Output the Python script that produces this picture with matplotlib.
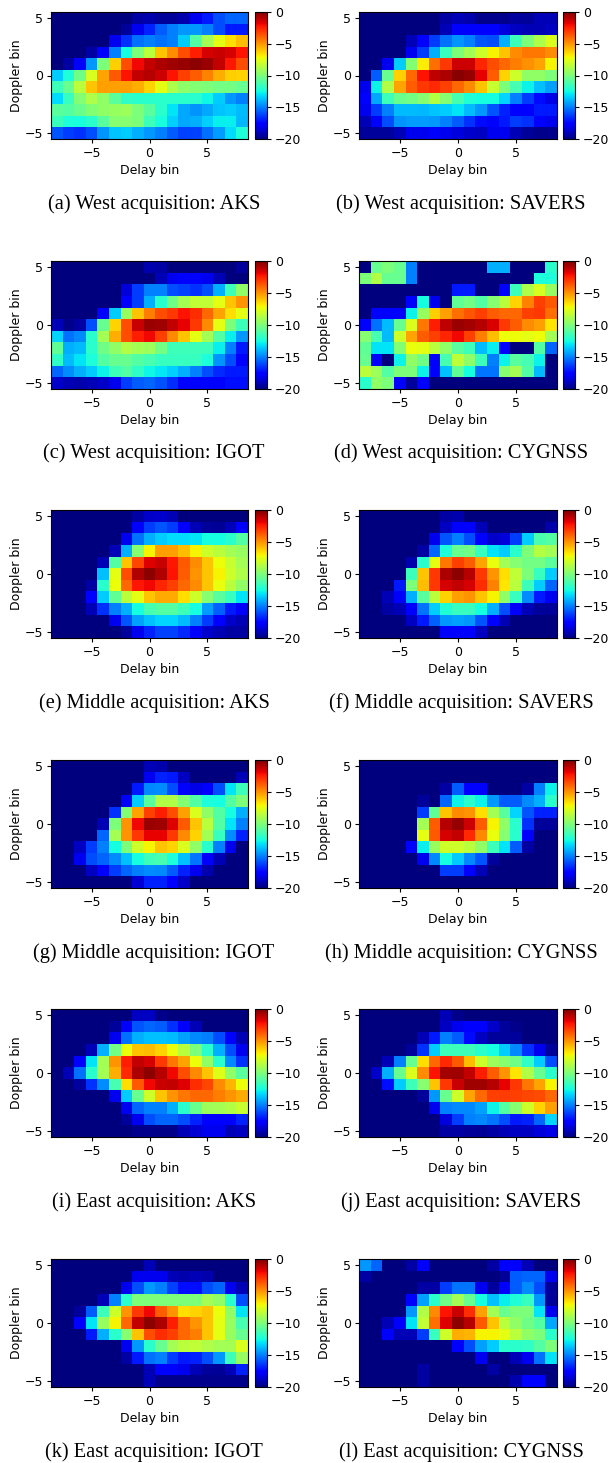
import numpy as np
import matplotlib
matplotlib.use("Agg")
import matplotlib.pyplot as plt

# every panel: rows from Doppler +5 down to -5, columns from delay -8 to +8
west_aks = [
    [-20]*7 + [-19.3, -19.2, -19.5, -19.5, -19.2, -18, -17, -16, -15.5, -15.5],
    [-20]*6 + [-19.5, -18, -16.8, -15.7, -15, -14.5, -14.5, -15, -16, -17, -17],
    [-20]*5 + [-18, -16.5, -15.3, -15, -15.3, -15, -13.5, -11, -9, -7.5, -6.5, -5.8],
    [-20]*3 + [-19.3, -17.8, -15, -12.5, -10, -8.5, -6, -4.8, -3.5, -2.5, -1.5, -1.3, -1.5, -2.2],
    [-20, -19.3, -17.7, -14.5, -10, -6.2, -3.5, -2, -1.2, -0.8, -0.6, -0.4, -0.3, -0.5, -1.2, -2.3, -3.5],
    [-13.5, -12.3, -10.3, -7.8, -5.3, -3.7, -2.2, -1.2, -1, -1.4, -2.2, -3.2, -3.8, -4.6, -5.5, -6.2, -6.3],
    [-11.5, -10.5, -8.5, -6, -5.2, -5.2, -5.2, -5.5, -6.3, -7.5, -8.8, -9.6, -9.8, -10, -10.2, -10.2, -10.5],
    [-13.2, -11.7, -9.8, -8.8, -9.5, -10.8, -11.8, -12, -12, -12, -12, -12, -12, -12.6, -13.5, -14.5, -15],
    [-10.8, -11, -10.4, -9.8, -9.5, -9.3, -9.2, -10, -10.8, -12, -13, -14.2, -14.6, -14.2, -13.6, -13.5, -13.8],
    [-11.6, -12.3, -12.4, -12, -10.8, -9.7, -9.7, -10, -11.5, -12.4, -13.4, -14.2, -14, -13.4, -12.8, -12.8, -13.9],
    [-15.8, -16.3, -16.5, -16, -14.6, -13.6, -13.5, -14, -14.5, -15, -15.7, -16.2, -16.2, -15.3, -14.4, -13.2, -12.2],
]
west_savers = [
    [-20]*7 + [-19.3, -19, -19.2, -19.7, -19.7, -19.7, -19.4, -19.5, -19, -19],
    [-20]*7 + [-19, -17.8, -17.6, -17.6, -17.5, -18.3, -18.8, -19, -19, -18.8],
    [-20]*4 + [-19, -17.7, -16.3, -15.3, -14.6, -15, -15.8, -16, -14, -11.5, -10, -8.8, -7.7],
    [-20]*4 + [-18, -16.3, -14, -11.7, -10, -9, -8, -7, -6, -4.8, -4.3, -4.3, -4.8],
    [-20]*2 + [-18, -13.5, -9.8, -6.8, -4.2, -3, -1.4, -1.4, -2.6, -3.5, -4, -4.5, -4.9, -5.3, -7],
    [-20, -15.7, -10.5, -6.2, -4, -2.2, -1.1, -0.8, -0.2, -0.4, -1.8, -3.8, -6.3, -8, -9.5, -9.5, -10],
    [-18, -12.7, -8.7, -5.3, -3.8, -3, -2.7, -3.2, -4, -4.8, -6, -8.2, -10, -11.3, -12.7, -13.7, -14.3],
    [-17.7, -14.2, -11.5, -10.5, -10.2, -9.7, -8.6, -9.7, -11.3, -12.2, -12.5, -12.5, -13.3, -15, -16.3, -17.3, -18.2],
    [-18, -16.3, -15, -13.8, -13.8, -13.9, -13.6, -13.5, -13, -13.8, -14.5, -15.8, -16.8, -17.5, -17.5, -17, -17],
    [-19, -17.8, -16, -14.6, -14.4, -14.4, -14.5, -15, -15.7, -16.5, -17.3, -17.5, -17, -16.3, -16.5, -17.5, -18],
    [-19.5, -19.5, -19.5, -19, -18, -18, -17.8, -18, -18.3, -18.6, -18.8, -18, -18, -19, -19.5, -19.7, -19.7],
]
west_igot = [
    [-20]*8 + [-19.2, -19.3] + [-20]*6 + [-19.5],
    [-20]*9 + [-19, -18, -17.6, -17.6, -18, -19, -20, -20],
    [-20]*6 + [-18.4, -16.3, -15, -15, -16, -16.2, -16.5, -16, -14, -11.5, -9.5],
    [-20]*6 + [-17.8, -16.3, -14, -12, -10.3, -9, -8.3, -8.3, -7.5, -6, -5],
    [-20]*4 + [-17.8, -13.5, -9.3, -6, -4.5, -3.5, -3, -2.2, -2.8, -4, -5.3, -6.5, -7.5],
    [-19, -19.8, -19.3, -16, -10.5, -6.3, -3.5, -1.3, -0.5, -0.6, -1.2, -1.8, -3, -4.7, -7.5, -10, -11.5],
    [-13.3, -15.3, -14.8, -12, -9, -5.5, -3.5, -2.5, -2, -3.2, -4.7, -6, -7.5, -9, -11, -12.8, -14.5],
    [-10.7, -14, -13.8, -12, -10.3, -9.5, -8.7, -9, -9.2, -10.2, -11.5, -11.5, -11.5, -11.5, -12.8, -15, -17],
    [-11.8, -13.8, -13, -12.3, -11, -10.5, -10.5, -11, -11.3, -11.7, -11.7, -11.7, -11.7, -12.3, -14.6, -16, -17.8],
    [-15.5, -14.7, -14, -13.5, -12.7, -11.5, -11, -11.8, -12.6, -12.9, -13.4, -14, -15, -16, -16.7, -17, -17],
    [-18.7, -19, -19.2, -19, -18.7, -18, -16.3, -15.7, -15.5, -15.9, -16.6, -17.5, -17.7, -17.8, -17.7, -17.2, -17.2],
]
west_cygnss = [
    [-20, -10.5, -10, -10.5, -15] + [-20]*6 + [-14, -14, -20, -20, -20, -12],
    [-10, -8.7, -10.5, -10.5, -15] + [-20]*10 + [-12.3, -12.3],
    [-20]*8 + [-17, -17, -20, -20, -17.7, -11.5, -8.8, -7.8, -9.3],
    [-20]*4 + [-17.8, -12.5, -18, -20, -10.7, -10.2, -11, -9.7, -8.5, -6.3, -4.6, -3.2, -3.7],
    [-20, -17.5, -17.5, -17.5, -12.7, -9.3, -6.2, -5.2, -4.2, -3.6, -3.2, -3.8, -4, -4, -3.2, -3, -4.2],
    [-17.8, -15.3, -13.8, -10.5, -7.7, -4.3, -2.5, -1.1, -0.5, -0.7, -1, -1.6, -3, -3.8, -4.8, -5.2, -6.7],
    [-9.7, -11.3, -13.8, -8, -5.3, -3.8, -3.2, -2.6, -2, -3.2, -4.5, -5.8, -7.2, -7.2, -7.5, -7.2, -9],
    [-10.7, -13, -13, -9.8, -7.3, -7.5, -8.5, -9.5, -10.8, -11.5, -13.8, -12.8, -17.8, -20, -20, -11, -15.5],
    [-10.5, -17.5, -20, -12.7, -9.5, -10.3, -17.5, -11.3, -8.4, -9.6, -11.5, -15, -12.7, -10.8, -11.3, -12.7, -20],
    [-8.5, -9.2, -11, -10, -10, -12.7, -17.5, -13.7, -10.7, -12.5, -15.2, -15.2, -9.7, -9, -11, -13.8, -20],
    [-12, -9.5, -10, -17.5, -19.5, -17.5] + [-20]*11,
]
middle_aks = [
    [-20]*7 + [-19.3, -18.7, -18.6, -19] + [-20]*6,
    [-20]*7 + [-17.8, -16.3, -15.8, -16.3, -17.6, -19, -19.5, -19.6, -19, -17.5],
    [-20]*6 + [-18, -15.3, -14, -13.5, -13.2, -13.2, -13, -12.5, -12.5, -12, -11],
    [-20]*5 + [-19, -14, -9.7, -7, -5.2, -5.2, -5.8, -7, -8, -8.5, -9, -9.3],
    [-20]*4 + [-19, -11, -6, -3.3, -1.7, -1.3, -2.3, -3.7, -4.8, -6, -7.2, -8.2, -9],
    [-20]*4 + [-13.7, -7.5, -3.5, -0.9, -0.3, -0.9, -2.2, -3.8, -5, -6, -7, -8, -8.8],
    [-20]*3 + [-19.3, -12, -7.2, -4, -2.3, -2, -2.6, -3.2, -4, -4.8, -6, -7.3, -8.5, -9.5],
    [-20]*3 + [-17.8, -13.5, -10.7, -8.5, -7.5, -6, -5.4, -5.4, -6.5, -8, -9.7, -10.8, -11.7, -13],
    [-20]*3 + [-19, -16.5, -15, -14, -12.5, -11.3, -11, -11, -11.5, -12.5, -14.4, -15.6, -17, -17.5],
    [-20]*5 + [-18, -15.8, -14.3, -13.7, -13.3, -13.3, -13.8, -15, -16.3, -17.7, -18.7, -19],
    [-20]*6 + [-19.5, -18, -16.8, -16.2, -16.2, -16.7, -17.8, -18.6, -19, -19.3, -19.3],
]
middle_savers = [
    [-20]*7 + [-19.3, -19.2] + [-20]*8,
    [-20]*7 + [-18.8, -17.6, -17.5, -19] + [-20]*5 + [-19.2],
    [-20]*6 + [-18, -15.8, -15, -16, -17.8, -18.7, -18.4, -16.3, -13.5, -11.2, -11],
    [-20]*5 + [-19.3, -15.5, -12.3, -10.5, -10.3, -11.7, -13, -13.5, -12, -10, -8.6, -9],
    [-20]*4 + [-19.2, -12, -7.5, -4.3, -3.2, -3.8, -5.3, -7.3, -9, -9.7, -10.2, -10.2, -10.8],
    [-20]*4 + [-11.5, -6, -3, -0.8, -0.3, -1, -3, -5, -6.5, -8.3, -10, -11.7, -13.5],
    [-20]*3 + [-17, -10, -5.8, -3, -1.5, -1.2, -1.5, -2.8, -4.6, -6.7, -8.5, -11.5, -13.5, -15.5],
    [-20]*2 + [-19, -17.8, -14, -10.8, -8.5, -6.3, -5.2, -5, -6, -7, -9.5, -11.7, -14.7, -17, -18],
    [-20]*2 + [-19.3, -19, -17.7, -15.2, -13.5, -12.2, -11.7, -11.7, -12.5, -14, -16, -17.8, -19, -19.5, -19.5],
    [-20]*4 + [-18.8, -17, -15.6, -14.5, -14.3, -14.5, -15.8, -17.5, -19] + [-20]*4,
    [-20]*7 + [-17.8, -17.5, -17.5, -18.8] + [-20]*6,
]
middle_igot = [
    [-20]*8 + [-19, -19.2] + [-20]*7,
    [-20]*8 + [-18, -16.8, -17, -18.8] + [-20]*4 + [-19],
    [-20]*7 + [-17, -14.8, -14.7, -16, -17.7, -18.2, -17.7, -16, -13, -11.5],
    [-20]*6 + [-17.8, -13.5, -10.8, -8.7, -8.7, -9.8, -11, -12.3, -12.5, -11, -10],
    [-20]*5 + [-16.5, -9.8, -5.3, -3.2, -2.5, -3.5, -5.2, -7.7, -9.5, -11, -12.5, -14],
    [-20]*4 + [-19, -10, -5, -2, -0.5, -0.6, -1.7, -3.7, -6, -8.5, -11, -13, -15],
    [-20]*4 + [-15.5, -9, -5, -3, -1.8, -1.8, -3, -4.7, -6.3, -9, -11.7, -14.7, -16.8],
    [-20]*2 + [-18.8, -16.3, -15, -12.5, -10, -8, -7, -6, -6.3, -7.7, -9.5, -12, -15, -18, -20],
    [-20]*2 + [-18, -16, -15.5, -14.7, -13.7, -12.5, -11.5, -11.3, -12.3, -13.7, -15.2, -17.5, -19, -20, -20],
    [-20]*3 + [-18.8, -17.7, -16.3, -15.5, -15, -14.7, -14.8, -15.7, -16.8, -18, -19.2, -20, -20, -20],
    [-20]*7 + [-18.5, -16.8, -16.8, -17.8, -18.7] + [-20]*5,
]
middle_cygnss = [
    [-20]*17,
    [-20]*17,
    [-20]*7 + [-19.3, -15.7, -17.7, -17.7, -20, -20, -20, -19.3, -15, -12.7],
    [-20]*5 + [-19.5, -20, -15.5, -12.7, -12, -12.7, -14.5, -15.7, -15.7, -14.7, -14, -12],
    [-20]*5 + [-16.3, -10.7, -6, -4.8, -5, -6.5, -9, -10.8, -13.3, -15.8, -16.8, -16.8],
    [-20]*5 + [-9, -3.8, -1, -0.4, -1.4, -3.8, -7, -9.5, -12, -16.5, -19.5, -19.5],
    [-20]*5 + [-7.5, -3.7, -1.5, -1.2, -2.7, -4.7, -7.3, -9.7, -12, -17.7, -20, -20],
    [-20]*4 + [-17.8, -12.8, -9.3, -8, -8, -8.5, -9.5, -11.5, -13, -15.7, -19.3, -20, -20],
    [-20]*5 + [-18, -14.8, -12.5, -13.5, -14.8, -15.8, -19.5] + [-20]*5,
    [-20]*7 + [-16.3, -16.3, -17.5, -19] + [-20]*6,
    [-20]*17,
]
east_aks = [
    [-20]*7 + [-18.8, -18.8, -19.7] + [-20]*7,
    [-20]*5 + [-19.5, -17.6, -15.8, -15.5, -15.7, -16.5, -17.8, -19] + [-20]*4,
    [-20]*5 + [-18, -15.3, -14, -13.7, -13.7, -13.8, -14.3, -14.8, -15, -16, -17.7, -19],
    [-20]*3 + [-19, -14, -10.2, -7.3, -6, -5.8, -6.3, -7.2, -8.5, -10, -12, -14, -16, -18],
    [-20]*2 + [-17.8, -13, -9, -5, -2.5, -1.2, -1.5, -3, -4.3, -5.3, -7.2, -9.5, -12, -14.8, -16.5],
    [-20, -19, -15.3, -12, -9, -5.5, -2.7, -0.8, -0.3, -1, -2, -3.5, -4.7, -6, -7.6, -9.5, -10.8],
    [-20]*2 + [-19.4, -16.5, -14.7, -11.3, -6.5, -3.7, -2, -1.3, -1.2, -1.7, -2.8, -3.3, -4.8, -5.7, -7.2],
    [-20]*5 + [-18, -13.5, -10.5, -8, -6, -5, -4.3, -4, -4, -4.5, -5, -5.4],
    [-20]*6 + [-18, -15.5, -15, -15, -14, -12, -10.5, -9.2, -9, -8.7, -8.2],
    [-20]*6 + [-19.5, -18, -16, -15.5, -15.5, -16, -16.8, -17.7, -17.8, -17.5, -16.8],
    [-20]*7 + [-19.7, -19.7, -19.8, -19.8, -19, -18.5, -18, -18, -19, -18.8],
]
east_savers = [
    [-20]*7 + [-19, -19.7] + [-20]*8,
    [-20]*7 + [-18.8, -18, -17.7, -17.8, -18.7, -19.5, -19.7, -20, -20, -20],
    [-20]*5 + [-19, -17, -15, -15.7, -17.3, -18.8, -19.5, -19.5, -19.5, -20, -20, -20],
    [-20]*4 + [-19.5, -16.5, -13.5, -11.5, -11.5, -11.5, -12, -12.5, -13.5, -14.8, -16.5, -18, -19.5],
    [-20]*2 + [-19, -15, -10.5, -6.5, -4, -2.7, -3.7, -5.8, -8, -9.2, -9.7, -10.3, -11.8, -13.5, -16],
    [-20, -18.7, -14, -10.5, -7.7, -4.8, -2.2, -0.7, -0.6, -1.2, -2.5, -3.8, -5, -6.7, -8.7, -10.5, -12],
    [-20]*2 + [-17.2, -13.5, -11.5, -9.7, -6, -3, -1.3, -0.6, -0.6, -1, -1.8, -3, -4.3, -5.3, -7],
    [-20]*5 + [-19.5, -14.5, -10.5, -8, -5.3, -4, -3.2, -3.1, -3.2, -3.3, -3.4, -4],
    [-20]*6 + [-18, -15, -14.8, -14.8, -14.3, -12.7, -11, -9.7, -8, -6.3, -5.2],
    [-20]*7 + [-18.3, -16.3, -15, -14.8, -15.2, -16, -17, -16.8, -15.5, -13.3],
    [-20]*7 + [-19.3, -19.3, -19.5, -19.6, -19.3, -19, -18.8, -18.8, -18.4, -18.2],
]
east_igot = [
    [-20]*8 + [-19] + [-20]*8,
    [-20]*7 + [-18, -18, -18, -19, -19.2, -19, -19.2, -20, -20, -20],
    [-20]*6 + [-18, -16, -14.5, -15, -16.2, -17.2, -17.2, -16, -15.5, -18, -19],
    [-20]*4 + [-19, -15, -12, -10, -10, -10, -10, -10, -10, -9, -9.5, -12, -16],
    [-20]*2 + [-19.5, -15.7, -11.5, -8, -5, -3, -2, -3.8, -5, -6.5, -6.3, -6, -7.3, -9.5, -13],
    [-20]*2 + [-17.5, -13, -9.3, -7, -4, -1.2, -0.3, -0.8, -2.5, -4, -5, -6, -7.5, -9.3, -11.3],
    [-20]*3 + [-17, -14, -12, -9.7, -6, -3.5, -2.8, -3.2, -4, -4.5, -6, -7.5, -9.3, -10.5],
    [-20]*6 + [-18, -14.5, -12, -10.5, -9, -8.5, -8.3, -8.7, -9, -9, -7.7],
    [-20]*6 + [-19.3, -17, -15.3, -15, -16.3, -17, -16.8, -16, -14.5, -11.5, -9.3],
    [-20]*8 + [-19, -17.7, -17.7, -18, -19, -19.5, -19.6, -19, -16.8],
    [-20]*8 + [-19] + [-19.7]*8,
]
east_cygnss = [
    [-14.5, -15.5, -20, -20, -19.3, -17.8, -20, -20, -20, -20, -20, -19.3, -17.7, -17.7, -19, -20, -20],
    [-19.3] + [-20]*11 + [-19.6, -15.7, -15.5, -15.5, -18],
    [-20]*5 + [-19.3, -19.3, -16.3, -15.2, -15.2, -18, -19.4, -17.8, -15.7, -14.7, -16, -19.5],
    [-20]*4 + [-17.8, -14.3, -12, -10.3, -9, -10.5, -12.5, -13.7, -12.8, -12.2, -11.7, -14.5, -19.5],
    [-20]*4 + [-14.5, -8.7, -4.7, -2.2, -1.3, -2.8, -5.2, -9, -10.5, -10, -10, -13, -18],
    [-20]*2 + [-19, -17.8, -13, -8.3, -4.2, -1.7, -0.3, -1, -3.7, -6, -8.5, -9.5, -10.3, -11, -14.2],
    [-20]*2 + [-17.7, -19, -19, -16.3, -11.7, -8, -5.5, -5.7, -7, -7, -7.5, -8.5, -9.5, -10, -12],
    [-20]*8 + [-17.8, -16, -14.3, -13.5, -12, -12, -11.8, -11, -10],
    [-20]*10 + [-18, -20, -20, -19, -18, -15.3, -13],
    [-20]*5 + [-19.3] + [-20]*5 + [-19.3] + [-20]*5,
    [-20]*5 + [-19.3] + [-20]*7 + [-19.2, -17.8, -17.8, -20],
]

panels = [west_aks, west_savers, west_igot, west_cygnss,
          middle_aks, middle_savers, middle_igot, middle_cygnss,
          east_aks, east_savers, east_igot, east_cygnss]
captions = ["(a) West acquisition: AKS", "(b) West acquisition: SAVERS",
            "(c) West acquisition: IGOT", "(d) West acquisition: CYGNSS",
            "(e) Middle acquisition: AKS", "(f) Middle acquisition: SAVERS",
            "(g) Middle acquisition: IGOT", "(h) Middle acquisition: CYGNSS",
            "(i) East acquisition: AKS", "(j) East acquisition: SAVERS",
            "(k) East acquisition: IGOT", "(l) East acquisition: CYGNSS"]
colorbar_ticks = [0, -5, -10, -15, -20]
axis_ticks = [-5, 0, 5]

W, H = 610, 1463
row_top = [12, 261, 510, 760, 1009, 1259]
row_bottom = [139, 389, 638, 888, 1137, 1387]
caption_y = [204, 453, 703, 953, 1202, 1452]
col_left = [51, 359]
col_right = [248, 556.5]
cbar_left = [255, 563]
caption_x = [154, 461]


def box(x0, x1, y0, y1):
    return [x0 / W, 1 - y1 / H, (x1 - x0) / W, (y1 - y0) / H]


fig = plt.figure(figsize=(W / 100, H / 100), dpi=100)

for i, data in enumerate(panels):
    r, c = i // 2, i % 2
    ax = fig.add_axes(box(col_left[c], col_right[c], row_top[r], row_bottom[r]))
    im = ax.imshow(np.array(data, dtype=float), cmap="jet", vmin=-20, vmax=0, aspect="auto",
                   extent=[-8.5, 8.5, -5.5, 5.5], interpolation="nearest")
    ax.set_xticks(axis_ticks)
    ax.set_yticks(axis_ticks)
    ax.tick_params(labelsize=9, length=3, pad=2.5)
    ax.set_xlabel("Delay bin", fontsize=9, labelpad=3)
    ax.set_ylabel("Doppler bin", fontsize=9, labelpad=1)

    cax = fig.add_axes(box(cbar_left[c], cbar_left[c] + 12, row_top[r], row_bottom[r]))
    cb = fig.colorbar(im, cax=cax, ticks=colorbar_ticks)
    cb.ax.tick_params(labelsize=9, length=3, pad=2.5)

    fig.text(caption_x[c] / W, 1 - caption_y[r] / H, captions[i], ha="center", va="center",
             family="Liberation Serif", fontsize=14.7)

fig.savefig("out.png", dpi=100)
